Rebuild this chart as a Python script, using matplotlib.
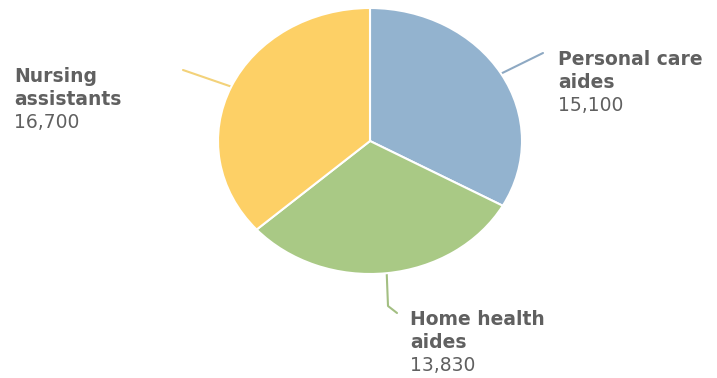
import numpy as np
import matplotlib
matplotlib.use("Agg")
import matplotlib.pyplot as plt

categories = ["Personal care\naides", "Home health\naides", "Nursing\nassistants"]
values = [15100, 13830, 16700]
value_labels = ["15,100", "13,830", "16,700"]
colors = ["#93b3cf", "#a9c985", "#fdd066"]
line_colors = ["#8ea9c3", "#a3bf82", "#f3d27a"]

W, H = 717, 378
fig = plt.figure(figsize=(W / 100, H / 100), dpi=100)

# pie geometry in pixels
cx, cy, rx, ry = 370, 141, 152, 133
pax = fig.add_axes([(cx - rx) / W, (H - (cy + ry)) / H, 2 * rx / W, 2 * ry / H])
wedges, _ = pax.pie(values, colors=colors, startangle=90, counterclock=False,
                    wedgeprops=dict(edgecolor="white", linewidth=1.5))
pax.set_aspect("auto")
pax.set_xlim(-1, 1)
pax.set_ylim(-1, 1)
pax.axis("off")

ov = fig.add_axes([0, 0, 1, 1], zorder=-1)
ov.set_xlim(0, W)
ov.set_ylim(H, 0)
ov.axis("off")

# label layout: (line end points beyond edge, text x, first baseline y)
layout = [
    dict(path=[(543, 53)], tx=558, ty=65),
    dict(path=[(388, 306), (397, 313)], tx=410, ty=325),
    dict(path=[(183, 70)], tx=14, ty=82),
]

for w, cat, vl, lc, lay in zip(wedges, categories, value_labels, line_colors, layout):
    mid = np.deg2rad((w.theta1 + w.theta2) / 2)
    sx = cx + rx * np.cos(mid)
    sy = cy - ry * np.sin(mid)
    xs = [sx] + [p[0] for p in lay["path"]]
    ys = [sy] + [p[1] for p in lay["path"]]
    ov.plot(xs, ys, color=lc, lw=1.5, solid_capstyle="round")
    lines = cat.split("\n")
    y = lay["ty"]
    for ln in lines:
        ov.text(lay["tx"], y, ln, fontsize=13.5, fontweight="bold", color="#606060",
                va="baseline", ha="left", family="DejaVu Sans")
        y += 23
    ov.text(lay["tx"], y, vl, fontsize=13.5, color="#606060",
            va="baseline", ha="left", family="DejaVu Sans")

fig.savefig("out.png", dpi=100, facecolor="white")
